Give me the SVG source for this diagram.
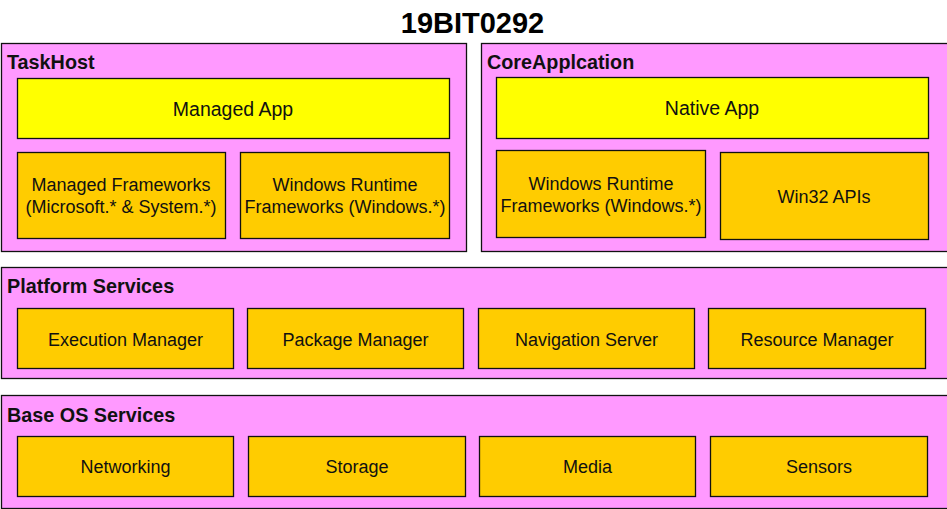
<svg xmlns="http://www.w3.org/2000/svg" width="947" height="509" viewBox="0 0 947 509">
<style>
text{font-family:"Liberation Sans",Arial,sans-serif;fill:#111;}
.grp{fill:#FF99FF;stroke:#111;stroke-width:1.3;}
.app{fill:#FFFF00;stroke:#111;stroke-width:1.3;}
.box{fill:#FFCC00;stroke:#111;stroke-width:1.3;}
.gl{font-size:19.8px;font-weight:bold;}
.al{font-size:19.5px;text-anchor:middle;}
.bl{font-size:18px;text-anchor:middle;}
.title{font-size:29px;font-weight:bold;text-anchor:middle;fill:#000;}
</style>
<rect width="947" height="509" fill="#fff"/>
<text class="title" x="472.5" y="33">19BIT0292</text>

<g id="taskhost">
<rect class="grp" x="1.5" y="43.5" width="465" height="208"/>
<text class="gl" x="7" y="68.5">TaskHost</text>
</g>
<g id="managed-app">
<rect class="app" x="17.5" y="78.5" width="432" height="60"/>
<text class="al" x="233" y="115.5">Managed App</text>
</g>
<g id="managed-frameworks">
<rect class="box" x="17.5" y="152.5" width="208" height="86"/>
<text class="bl" x="121" y="190.5">Managed Frameworks</text>
<text class="bl" x="121" y="213">(Microsoft.* &amp; System.*)</text>
</g>
<g id="winrt-managed">
<rect class="box" x="240.5" y="152.5" width="209" height="86"/>
<text class="bl" x="345" y="190.5">Windows Runtime</text>
<text class="bl" x="345" y="213">Frameworks (Windows.*)</text>
</g>

<g id="coreapplication">
<rect class="grp" x="481.5" y="43.5" width="470" height="208"/>
<text class="gl" x="487" y="68.5">CoreApplcation</text>
</g>
<g id="native-app">
<rect class="app" x="496.5" y="77.5" width="432" height="61"/>
<text class="al" x="712" y="115">Native App</text>
</g>
<g id="winrt-native">
<rect class="box" x="496.5" y="150.5" width="209" height="87"/>
<text class="bl" x="601" y="190">Windows Runtime</text>
<text class="bl" x="601" y="212">Frameworks (Windows.*)</text>
</g>
<g id="win32">
<rect class="box" x="720.5" y="152.5" width="208" height="87"/>
<text class="bl" x="824" y="202.5">Win32 APIs</text>
</g>

<g id="platform-services">
<rect class="grp" x="1.5" y="267.5" width="950" height="111"/>
<text class="gl" x="7" y="292.5">Platform Services</text>
</g>
<g id="execution-manager">
<rect class="box" x="17.5" y="308.5" width="216" height="60"/>
<text class="bl" x="125.5" y="345.5">Execution Manager</text>
</g>
<g id="package-manager">
<rect class="box" x="247.5" y="308.5" width="216" height="60"/>
<text class="bl" x="355.5" y="345.5">Package Manager</text>
</g>
<g id="navigation-server">
<rect class="box" x="478.5" y="308.5" width="216" height="60"/>
<text class="bl" x="586.5" y="345.5">Navigation Server</text>
</g>
<g id="resource-manager">
<rect class="box" x="708.5" y="308.5" width="217" height="60"/>
<text class="bl" x="817" y="345.5">Resource Manager</text>
</g>

<g id="base-os-services">
<rect class="grp" x="1.5" y="395.5" width="950" height="113"/>
<text class="gl" x="7" y="422">Base OS Services</text>
</g>
<g id="networking">
<rect class="box" x="17.5" y="436.5" width="216" height="60"/>
<text class="bl" x="125.5" y="473">Networking</text>
</g>
<g id="storage">
<rect class="box" x="248.5" y="436.5" width="217" height="60"/>
<text class="bl" x="357" y="473">Storage</text>
</g>
<g id="media">
<rect class="box" x="479.5" y="436.5" width="216" height="60"/>
<text class="bl" x="587.5" y="473">Media</text>
</g>
<g id="sensors">
<rect class="box" x="710.5" y="436.5" width="217" height="60"/>
<text class="bl" x="819" y="473">Sensors</text>
</g>
<g id="connectors"></g>
</svg>
